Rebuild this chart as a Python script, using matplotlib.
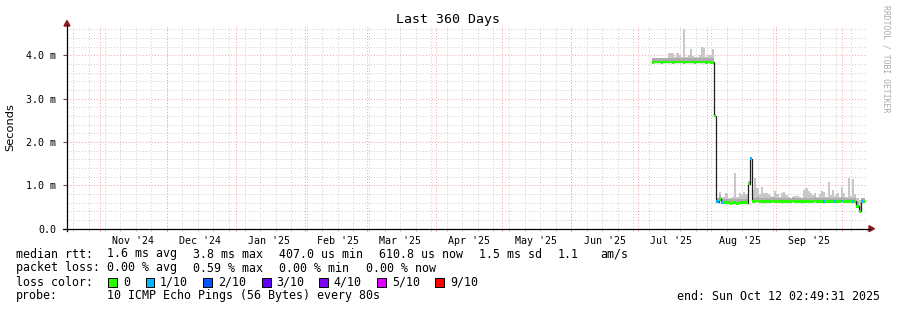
import numpy as np
import matplotlib
matplotlib.use("Agg")
import matplotlib.pyplot as plt
import matplotlib.dates as mdates
import matplotlib.transforms as mtransforms
from matplotlib.patches import Rectangle, Polygon
from matplotlib.lines import Line2D
import pandas as pd

plt.rcParams['font.family'] = ['DejaVu Sans Mono']

W, H = 897, 310
END = pd.Timestamp("2025-10-12 02:49:31")
START = END - pd.Timedelta(days=360)
DATA_START = pd.Timestamp("2025-07-07 09:00")   # first daily bin

title = "Last 360 Days"
ylabel = "Seconds"
ytick_vals = [0, 1, 2, 3, 4]
ytick_labels = ["0.0", "1.0 m", "2.0 m", "3.0 m", "4.0 m"]
month_labels = ["Nov '24", "Dec '24", "Jan '25", "Feb '25", "Mar '25", "Apr '25",
                "May '25", "Jun '25", "Jul '25", "Aug '25", "Sep '25"]

# ---- daily data (ms) ----
median_high = [3.84, 3.85, 3.85, 3.85, 3.84, 3.85, 3.85, 3.85, 3.85, 3.84,
               3.85, 3.85, 3.85, 3.85, 3.84, 3.85, 3.85, 3.85, 3.85, 3.84,
               3.85, 3.85, 3.85, 3.85, 3.84, 3.85, 3.84, 3.84]
median_drop = [2.60]
median_low1 = [0.62, 0.68, 0.61, 0.60, 0.60, 0.60, 0.59, 0.60, 0.60, 0.59,
               0.60, 0.60, 0.60, 0.60]
median_spike = [1.03, 1.62]
median_low2 = [0.63, 0.63, 0.64, 0.63, 0.63, 0.62, 0.63, 0.63, 0.63, 0.64,
               0.63, 0.63, 0.63, 0.62, 0.63, 0.63, 0.63, 0.63, 0.64, 0.63,
               0.63, 0.63, 0.62, 0.63, 0.63, 0.63, 0.63, 0.63, 0.64, 0.63,
               0.63, 0.63, 0.62, 0.63, 0.63, 0.63, 0.63, 0.63, 0.63, 0.63,
               0.64, 0.63, 0.63, 0.63, 0.63, 0.63, 0.63, 0.52, 0.40, 0.62,
               0.63]

smoke_high = [3.93, 3.94, 3.95, 3.94, 3.95, 3.94, 3.95, 4.05, 4.06, 4.05,
              3.96, 4.05, 4.02, 3.96, 4.62, 3.96, 4.02, 4.14, 3.98, 3.96,
              3.96, 4.00, 4.20, 4.18, 3.96, 4.00, 4.02, 4.16]
smoke_drop = [2.65]
smoke_low1 = [0.72, 0.85, 0.74, 0.74, 0.82, 0.72, 0.72, 0.74, 1.28, 0.74,
              0.82, 0.78, 0.85, 0.80]
smoke_spike = [1.10, 1.66]
smoke_low2 = [0.90, 1.16, 0.95, 0.80, 0.97, 0.82, 0.82, 0.80, 0.75, 0.74,
              0.86, 0.80, 0.74, 0.82, 0.84, 0.78, 0.74, 0.72, 0.74, 0.76,
              0.76, 0.74, 0.72, 0.90, 0.93, 0.86, 0.82, 0.78, 0.82, 0.74,
              0.80, 0.86, 0.84, 0.74, 1.08, 0.78, 0.90, 0.76, 0.82, 0.74,
              0.97, 0.82, 0.74, 1.18, 0.76, 1.14, 0.80, 0.72, 0.66, 0.72,
              0.70]

# loss in tenths per day
loss_high = [0] * 28
loss_drop = [0]
loss_low1 = [1, 0, 1, 0, 0, 0, 0, 0, 0, 0, 0, 0, 0, 0]
loss_spike = [0, 1]
loss_low2 = [0, 0, 0, 0, 0, 0, 0, 0, 0, 0,
             0, 0, 0, 0, 0, 0, 0, 0, 0, 0,
             0, 0, 0, 0, 0, 0, 0, 0, 0, 0,
             0, 0, 1, 0, 0, 0, 0, 1, 0, 0,
             1, 0, 0, 0, 0, 1, 0, 0, 0, 1,
             0]

loss_levels = ["0", "1/10", "2/10", "3/10", "4/10", "5/10", "9/10"]
loss_colors = ["#26ff00", "#00b8ff", "#0059ff", "#5e00ff", "#7e00ff", "#dd00ff", "#ff0000"]

stats_rtt = ["median rtt:", "1.6 ms avg", "3.8 ms max", "407.0 us min", "610.8 us now",
             "1.5 ms sd", "1.1", "am/s"]
stats_loss = ["packet loss:", "0.00 % avg", "0.59 % max", "0.00 % min", "0.00 % now"]
probe_text = ["probe:", "10 ICMP Echo Pings (56 Bytes) every 80s"]
end_text = "end: Sun Oct 12 02:49:31 2025"
watermark = "RRDTOOL / TOBI OETIKER"

median = np.array(median_high + median_drop + median_low1 + median_spike + median_low2)
smoke = np.array(smoke_high + smoke_drop + smoke_low1 + smoke_spike + smoke_low2)
loss = np.array(loss_high + loss_drop + loss_low1 + loss_spike + loss_low2)


def dn(t):
    return mdates.date2num(pd.Timestamp(t).to_pydatetime())


def P(x, y):
    return (x / W, 1 - y / H)


fig = plt.figure(figsize=(W / 100, H / 100), dpi=100)
fig.patch.set_facecolor("white")
ax = fig.add_axes([67 / W, (H - 228.7) / H, 800 / W, 202.7 / H])
ax.set_facecolor("white")
x0, x1 = dn(START), dn(END)
ax.set_xlim(x0, x1)
ax.set_ylim(0, 4.68)
for s in ax.spines.values():
    s.set_visible(False)

# grid
dot = (0, (1, 2))
weeks = pd.date_range("2024-10-20", END, freq="7D")
months = pd.date_range("2024-11-01", END, freq="MS")
for t in weeks:
    ax.axvline(dn(t), color="#cccccc", lw=0.7, ls=dot, zorder=0)
for yv in np.arange(0.2, 4.68, 0.2):
    if abs(yv - round(yv)) > 1e-6:
        ax.axhline(yv, color="#cccccc", lw=0.7, ls=dot, zorder=0)
for t in months:
    ax.axvline(dn(t), color="#f4a0a0", lw=0.7, ls=dot, zorder=0.5)
for yv in ytick_vals[1:]:
    ax.axhline(yv, color="#f4a0a0", lw=0.7, ls=dot, zorder=0.5)

# data
edges = dn(DATA_START) + np.arange(len(median) + 1)
inner = np.minimum(smoke, median + 0.09)
ax.stairs(smoke, edges, baseline=median - 0.02, fill=True, color="#c8c8c8", lw=0, zorder=2)
ax.stairs(inner, edges, baseline=median - 0.02, fill=True, color="#adadad", lw=0, zorder=2.1)
ax.stairs(median, edges, baseline=None, color="#202020", lw=0.9, zorder=3)
sw = 0.032
ax.bar(edges[:-1], 2 * sw, width=1.0, bottom=median - sw, align="edge",
       color=[loss_colors[l] for l in loss], linewidth=0, zorder=4)

# ticks
ax.set_yticks(ytick_vals)
ax.set_yticklabels(ytick_labels, fontsize=7.2)
ax.tick_params(axis="y", length=3, width=0.8, color="#555555", pad=5)
lab_pos = [dn(t + pd.Timedelta(days=15)) for t in pd.date_range("2024-11-01", periods=11, freq="MS")]
ax.set_xticks(lab_pos)
ax.set_xticklabels(month_labels, fontsize=7.2)
ax.tick_params(axis="x", length=0, pad=5)

btr = mtransforms.blended_transform_factory(ax.transData, ax.transAxes)
ax.vlines([dn(t) for t in weeks], -0.01, 0, transform=btr, color="#bbbbbb", lw=0.7, clip_on=False)
ax.vlines([dn(t) for t in months], -0.012, 0, transform=btr, color="#ee8080", lw=0.7, clip_on=False)

# axes lines and arrows
fig.add_artist(Line2D([63 / W, 870 / W], [1 - 228.7 / H] * 2, color="black", lw=0.9))
fig.add_artist(Line2D([67 / W] * 2, [1 - 231 / H, 1 - 25 / H], color="black", lw=0.9))
fig.add_artist(Polygon([P(64, 26), P(70, 26), P(67, 20.5)], closed=True, color="#8b1a1a"))
fig.add_artist(Polygon([P(869, 225.7), P(869, 231.7), P(874.5, 228.7)], closed=True, color="#8b1a1a"))

# texts
fig.text(*P(448, 19), title, fontsize=9.5, ha="center", va="center")
fig.text(*P(10, 127), ylabel, fontsize=8.2, rotation=90, ha="center", va="center",
         family="DejaVu Sans")
fig.text(*P(886, 59), watermark, fontsize=5.9, rotation=270, ha="center", va="center",
         color="#aaaaaa")

fs = 8.4
rtt_x = [16, 107, 193, 279, 379, 479, 558, 600]
for x, s in zip(rtt_x, stats_rtt):
    fig.text(*P(x, 254), s, fontsize=fs, ha="left", va="center")
loss_x = [16, 107, 193, 279, 366]
for x, s in zip(loss_x, stats_loss):
    fig.text(*P(x, 268), s, fontsize=fs, ha="left", va="center")
fig.text(*P(16, 282), "loss color:", fontsize=fs, ha="left", va="center")
sq_x = [108, 145.5, 203, 262, 319, 377, 435]
lab_x = [123, 160, 218, 276, 333, 392, 450]
for sx, lx, c, l in zip(sq_x, lab_x, loss_colors, loss_levels):
    fig.add_artist(Rectangle(P(sx, 286.5), 8.5 / W, 8.5 / H, transform=fig.transFigure,
                             facecolor=c, edgecolor="black", lw=0.7))
    fig.text(*P(lx, 282), l, fontsize=fs, ha="left", va="center")
fig.text(*P(16, 296), probe_text[0], fontsize=fs, ha="left", va="center")
fig.text(*P(107, 296), probe_text[1], fontsize=fs, ha="left", va="center")
fig.text(*P(880, 296), end_text, fontsize=fs, ha="right", va="center")

fig.savefig("out.png", dpi=100)
